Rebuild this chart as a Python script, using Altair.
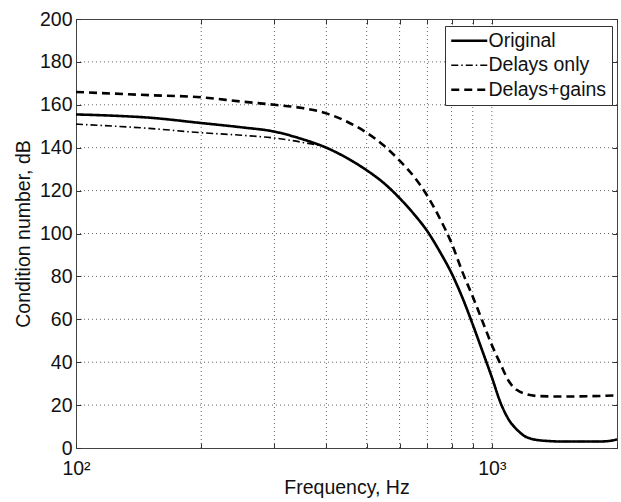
import altair as alt
import pandas as pd

# ---- data ----
series_names = ["Original", "Delays only", "Delays+gains"]

freq_orig = [100, 120, 150, 200, 250, 300, 350, 400, 450, 500, 550, 600, 650, 700,
             750, 800, 850, 900, 950, 1000, 1050, 1100, 1150, 1200, 1250, 1300, 1500,
             1800, 1900, 2000]
cond_orig = [155.5, 155, 154, 151.5, 149.5, 147.5, 144, 140, 135, 129.5, 123.5, 116.5,
             109, 101, 91.5, 81.5, 70, 57.5, 45, 33, 21, 13, 8.5, 5.5, 4.2, 3.6, 3,
             3, 3.2, 4]

freq_delays = [100, 150, 200, 250, 300, 350, 400, 450, 500, 550, 600, 650, 700,
               750, 800, 850, 900, 950, 1000, 1050, 1100, 1150, 1200, 1250, 1300, 1500,
               1800, 1900, 2000]
cond_delays = [151, 149, 147, 145.8, 144.5, 142.5, 140, 135, 129.5, 123.5, 116.5,
               109, 101, 91.5, 81.5, 70, 57.5, 45, 33, 21, 13, 8.5, 5.5, 4.2, 3.6, 3,
               3, 3.2, 4]

freq_gains = [100, 150, 200, 250, 300, 350, 400, 450, 500, 550, 600, 650, 700,
              750, 800, 850, 900, 950, 1000, 1050, 1100, 1150, 1200, 1300, 1500, 2000]
cond_gains = [166, 164.5, 163.5, 161.5, 160, 158.5, 156, 152, 147, 141, 134, 126.5,
              117.5, 107, 95.5, 82, 70.5, 59, 48, 39, 31, 27, 25.3, 24.2, 24, 24.5]

x_tick_values = [100, 200, 300, 400, 500, 600, 700, 800, 900, 1000, 2000]
x_grid_values = [200, 300, 400, 500, 600, 700, 800, 900, 1000]
y_tick_values = [0, 20, 40, 60, 80, 100, 120, 140, 160, 180, 200]
y_grid_values = [20, 40, 60, 80, 100, 120, 140, 160, 180]

rows = []
for name, fs, cs in [("Original", freq_orig, cond_orig),
                     ("Delays only", freq_delays, cond_delays),
                     ("Delays+gains", freq_gains, cond_gains)]:
    for f, c in zip(fs, cs):
        rows.append({"series": name, "freq": f, "cond": c})
df = pd.DataFrame(rows)

FONT = "Liberation Sans"
FS = 19.5
W, H = 541, 429

xscale = alt.Scale(type="log", domain=[100, 2000], nice=False)
yscale = alt.Scale(domain=[0, 200], nice=False)

grid_style = dict(color="#333333", strokeDash=[1, 3], strokeWidth=1, opacity=0.75)

vgrid = alt.Chart(pd.DataFrame({"f": x_grid_values})).mark_rule(**grid_style).encode(
    x=alt.X("f:Q", scale=xscale,
            axis=alt.Axis(orient="top", values=x_tick_values, labels=False,
                          domain=False, ticks=True, tickSize=5, offset=-5,
                          grid=False, title=None, tickColor="#333"))
)

hgrid = alt.Chart(pd.DataFrame({"v": y_grid_values})).mark_rule(**grid_style).encode(
    y=alt.Y("v:Q", scale=yscale,
            axis=alt.Axis(orient="right", values=y_tick_values, labels=False,
                          domain=False, ticks=True, tickSize=5, offset=-5,
                          grid=False, title=None, tickColor="#333"))
)

legend = alt.Legend(
    orient="none", legendX=369, legendY=7, title=None,
    symbolType="M-2.25,0H2.25", symbolSize=256, symbolStrokeColor="black",
    symbolFillColor="transparent", symbolOffset=9.5,
    labelFont=FONT, labelFontSize=FS, labelColor="#111", labelOffset=9.5,
    padding=5, rowPadding=3.5, strokeColor="#333", fillColor="white",
)

lines = alt.Chart(df).mark_line(interpolate="monotone", color="black").encode(
    x=alt.X("freq:Q", scale=xscale,
            axis=alt.Axis(orient="bottom", values=x_tick_values,
                          labelExpr="datum.value == 100 ? '10²' : (datum.value == 1000 ? '10³' : '')",
                          labelOverlap=False, labelFlush=False,
                          domain=False, tickSize=5, offset=-5, labelPadding=11,
                          tickColor="#333", grid=False,
                          title="Frequency, Hz", titlePadding=1)),
    y=alt.Y("cond:Q", scale=yscale,
            axis=alt.Axis(orient="left", values=y_tick_values,
                          labelOverlap=False, labelFlush=False,
                          domain=False, tickSize=5, offset=-5, labelPadding=4,
                          tickColor="#333", grid=False,
                          title="Condition number, dB", titlePadding=6)),
    strokeDash=alt.StrokeDash("series:N",
                              scale=alt.Scale(domain=series_names,
                                              range=[[1, 0], [7, 3, 1.5, 3], [8, 5]]),
                              legend=legend),
    strokeWidth=alt.StrokeWidth("series:N",
                                scale=alt.Scale(type="ordinal", domain=series_names,
                                                range=[2.6, 1.6, 2.6]),
                                legend=legend),
    order=alt.Order("freq:Q"),
)

chart = alt.layer(vgrid, hgrid, lines).resolve_scale(
    x="independent", y="independent"
).resolve_axis(
    x="independent", y="independent"
).properties(
    width=W, height=H,
    autosize=alt.AutoSizeParams(type="none"),
    padding={"left": 76, "top": 19, "right": 4, "bottom": 54},
    background="white",
).configure_view(
    stroke="#444", strokeWidth=1
).configure_axis(
    labelFont=FONT, labelFontSize=FS, labelColor="#111",
    titleFont=FONT, titleFontSize=FS, titleColor="#111", titleFontWeight="normal",
).configure_legend(
    strokeColor="#333", strokeWidth=1
)

chart.save("out.html", embed_options={"renderer": "svg", "actions": False})
